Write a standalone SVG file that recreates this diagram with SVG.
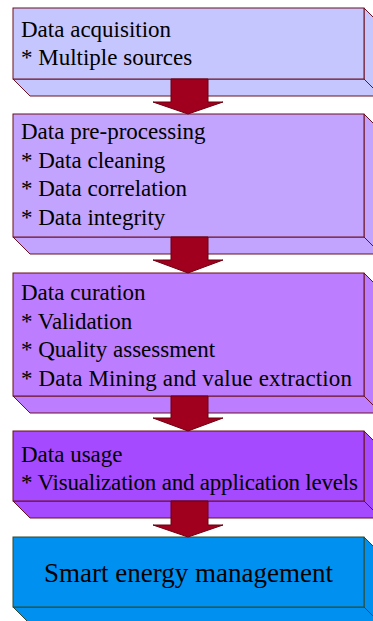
<svg xmlns="http://www.w3.org/2000/svg" width="373" height="621" viewBox="0 0 373 621">
<style>
.t{font-family:'Liberation Serif','DejaVu Serif',serif;font-size:23px;fill:#000}
.big{font-size:27px}
.s{stroke:#6b1020;stroke-width:1}
.g{stroke:#2e4a30;stroke-width:1}
.arr{fill:#a0001e;stroke:#6b0010;stroke-width:1}
</style>
<rect width="373" height="621" fill="#fff"/>
<g id="node-acquisition">
<polygon class="s" fill="#c6c6ff" points="13,79 30,96 381,96 364,79"/>
<polygon class="s" fill="#c6c6ff" points="364,8 381,25 381,96 364,79"/>
<rect class="s" fill="#c6c6ff" x="13" y="8" width="351" height="71"/>
<text class="t" x="21" y="36.5">Data acquisition</text>
<text class="t" x="21" y="65">* Multiple sources</text>
</g>
<g id="node-preprocessing">
<polygon class="s" fill="#c2a4ff" points="13,237 30,254 381,254 364,237"/>
<polygon class="s" fill="#c2a4ff" points="364,114 381,131 381,254 364,237"/>
<rect class="s" fill="#c2a4ff" x="13" y="114" width="351" height="123"/>
<text class="t" x="21" y="139">Data pre-processing</text>
<text class="t" x="21" y="167.5">* Data cleaning</text>
<text class="t" x="21" y="196">* Data correlation</text>
<text class="t" x="21" y="224.5">* Data integrity</text>
</g>
<g id="node-curation">
<polygon class="s" fill="#bd7dff" points="13,396 30,413 381,413 364,396"/>
<polygon class="s" fill="#bd7dff" points="364,273 381,290 381,413 364,396"/>
<rect class="s" fill="#bd7dff" x="13" y="273" width="351" height="123"/>
<text class="t" x="21" y="300">Data curation</text>
<text class="t" x="21" y="328.5">* Validation</text>
<text class="t" x="21" y="357">* Quality assessment</text>
<text class="t" x="21" y="385.5" textLength="331" lengthAdjust="spacing">* Data Mining and value extraction</text>
</g>
<g id="node-usage">
<polygon class="s" fill="#a54aff" points="13,501 30,518 381,518 364,501"/>
<polygon class="s" fill="#a54aff" points="364,431 381,448 381,518 364,501"/>
<rect class="s" fill="#a54aff" x="13" y="431" width="351" height="70"/>
<text class="t" x="21" y="462">Data usage</text>
<text class="t" x="21" y="490" textLength="337" lengthAdjust="spacing">* Visualization and application levels</text>
</g>
<g id="node-smart-energy">
<polygon class="g" fill="#0090f0" points="13,607 30,624 381,624 364,607"/>
<polygon class="g" fill="#0090f0" points="364,537 381,554 381,624 364,607"/>
<rect class="g" fill="#0090f0" x="13" y="537" width="351" height="70"/>
<text class="t big" x="188.5" y="582" text-anchor="middle">Smart energy management</text>
</g>
<g id="connectors">
<polygon class="arr" points="171,79 208,79 208,102 223,102 188,114 153,102 171,102"/>
<polygon class="arr" points="171,237 208,237 208,260 223,260 188,273 153,260 171,260"/>
<polygon class="arr" points="171,396 208,396 208,418 223,418 188,431 153,418 171,418"/>
<polygon class="arr" points="171,501 208,501 208,525 223,525 188,537 153,525 171,525"/>
</g>
</svg>
